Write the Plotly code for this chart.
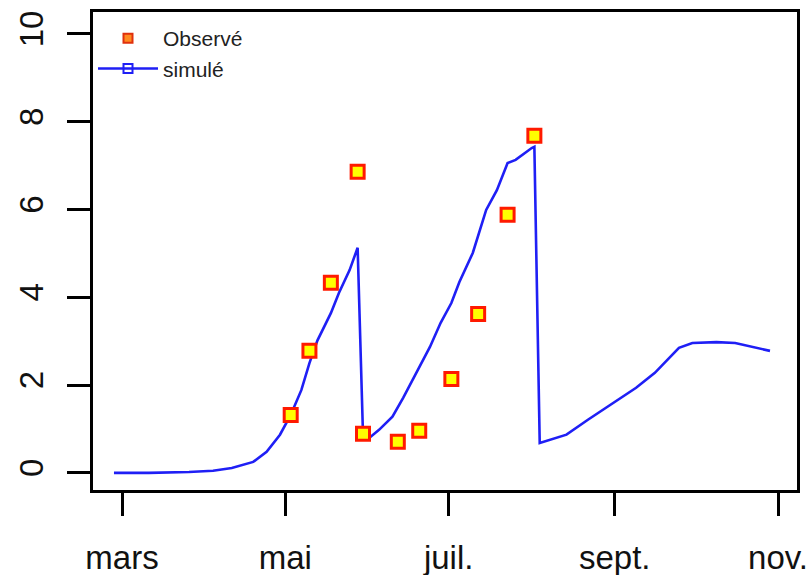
import plotly.graph_objects as go

# Observed values
obs_dates = ["2019-05-03", "2019-05-10", "2019-05-18", "2019-05-28", "2019-05-30",
             "2019-06-12", "2019-06-20", "2019-07-02", "2019-07-12", "2019-07-23",
             "2019-08-02"]
obs_values = [1.32, 2.78, 4.33, 6.86, 0.89, 0.71, 0.96, 2.14, 3.62, 5.88, 7.68]

# Simulated series
sim_dates = ["2019-02-26", "2019-03-11", "2019-03-26", "2019-04-04", "2019-04-11",
             "2019-04-19", "2019-04-24", "2019-04-29", "2019-05-03", "2019-05-07",
             "2019-05-10", "2019-05-13", "2019-05-18", "2019-05-21", "2019-05-25",
             "2019-05-28", "2019-05-30", "2019-06-01", "2019-06-05", "2019-06-10",
             "2019-06-14", "2019-06-19", "2019-06-24", "2019-06-28", "2019-07-02",
             "2019-07-05", "2019-07-07", "2019-07-10", "2019-07-15", "2019-07-19",
             "2019-07-23", "2019-07-26", "2019-08-01", "2019-08-02", "2019-08-04",
             "2019-08-14", "2019-08-22", "2019-09-01", "2019-09-09", "2019-09-16",
             "2019-09-20", "2019-09-25", "2019-09-30", "2019-10-09", "2019-10-16",
             "2019-10-24", "2019-10-29"]
sim_values = [0.00, 0.00, 0.02, 0.05, 0.11,
              0.25, 0.48, 0.87, 1.32, 1.89,
              2.50, 3.02, 3.64, 4.10, 4.62,
              5.13, 0.87, 0.78, 0.98, 1.28,
              1.71, 2.28, 2.87, 3.42, 3.87,
              4.35, 4.63, 5.01, 5.99, 6.44,
              7.06, 7.13, 7.40, 7.43, 0.68,
              0.87, 1.21, 1.62, 1.94, 2.28,
              2.53, 2.85, 2.96, 2.98, 2.96,
              2.85, 2.78]

# Axis ticks
month_ticks = ["2019-03-01", "2019-05-01", "2019-07-01", "2019-09-01", "2019-11-01"]
month_labels = ["mars", "mai", "juil.", "sept.", "nov."]
y_ticks = [0, 2, 4, 6, 8, 10]

BLUE = "#1f1ff5"
FONT = "Liberation Sans, Arial, sans-serif"

fig = go.Figure()

fig.add_trace(go.Scatter(
    x=sim_dates, y=sim_values, mode="lines",
    line=dict(color=BLUE, width=2.6),
    showlegend=False,
))
fig.add_trace(go.Scatter(
    x=obs_dates, y=obs_values, mode="markers",
    marker=dict(symbol="square", size=13, color="#ffff00",
                line=dict(color="#ff1a00", width=3)),
    showlegend=False,
))

# Legend entries
fig.add_trace(go.Scatter(
    x=[None], y=[None], mode="markers", name="Observé",
    marker=dict(symbol="square", size=9, color="#ff8a20",
                line=dict(color="#e0300c", width=2)),
))
fig.add_trace(go.Scatter(
    x=[None], y=[None], mode="lines+markers", name="simulé",
    line=dict(color=BLUE, width=2.6),
    marker=dict(symbol="square-open", size=9, color=BLUE, line=dict(width=2)),
))

axis_common = dict(
    showline=True, linecolor="black", linewidth=2.5, mirror=True,
    ticks="outside", ticklen=23, tickwidth=2.5, tickcolor="black",
    showgrid=False, zeroline=False, automargin=False,
    tickfont=dict(family=FONT, size=33, color="#111111"),
)

fig.update_layout(
    width=811, height=575,
    margin=dict(l=93, r=14, t=12, b=85),
    paper_bgcolor="white", plot_bgcolor="white",
    xaxis=dict(
        type="date",
        range=["2019-02-18 04:00", "2019-11-08 02:00"],
        tickmode="array", tickvals=month_ticks, ticktext=month_labels,
        ticklabelstandoff=14,
        **axis_common,
    ),
    yaxis=dict(
        range=[-0.39, 10.5],
        tickmode="array", tickvals=y_ticks, ticktext=[str(v) for v in y_ticks],
        tickangle=-90,
        ticklabelstandoff=11,
        **axis_common,
    ),
    legend=dict(
        x=0.0, y=0.9875, xanchor="left", yanchor="top",
        bgcolor="rgba(0,0,0,0)",
        font=dict(family=FONT, size=21, color="#222222"),
        itemwidth=60, tracegroupgap=0,
    ),
)

fig.write_html("out.html")
